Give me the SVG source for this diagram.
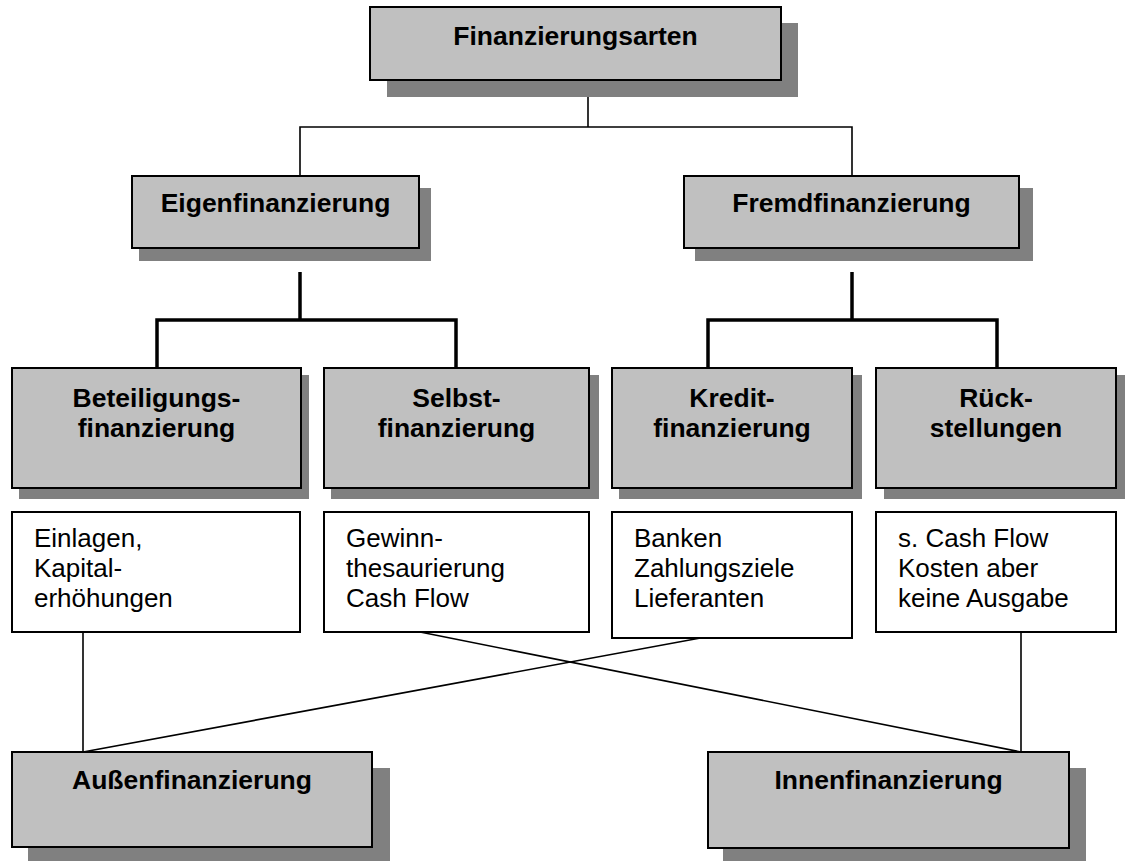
<svg xmlns="http://www.w3.org/2000/svg" width="1131" height="861" viewBox="0 0 1131 861">
  <style>
    .shadow { fill: #808080; stroke: none; }
    .box { fill: #c0c0c0; stroke: #000; stroke-width: 2; }
    .note { fill: #fff; stroke: #000; stroke-width: 2; }
    .title { font-family: "Liberation Sans", Arial, sans-serif; font-weight: bold; font-size: 26.5px; fill: #000; text-anchor: middle; }
    .body { font-family: "Liberation Sans", Arial, sans-serif; font-size: 26px; fill: #000; }
    .thin { stroke: #000; stroke-width: 1.6; fill: none; }
    .thick { stroke: #000; stroke-width: 3.5; fill: none; }
  </style>
  <rect width="1131" height="861" fill="#fff"/>

  <!-- connectors -->
  <g id="connectors">
    <polyline class="thin" points="588,80 588,127"/>
    <polyline class="thin" points="300,176 300,127 852,127 852,176"/>
    <line class="thick" x1="300" y1="272" x2="300" y2="320"/>
    <polyline class="thick" points="157,368 157,320 456,320 456,368"/>
    <line class="thick" x1="852" y1="272" x2="852" y2="320"/>
    <polyline class="thick" points="708,368 708,320 997,320 997,368"/>
    <line class="thin" x1="83" y1="632" x2="83" y2="752"/>
    <line class="thin" x1="1021" y1="632" x2="1021" y2="752"/>
    <line class="thin" x1="733" y1="632" x2="83" y2="752"/>
    <line class="thin" x1="420" y1="632" x2="1021" y2="752"/>
  </g>

  <!-- top level -->
  <g id="finanzierungsarten">
    <rect class="shadow" x="387" y="23" width="411" height="74"/>
    <rect class="box" x="370" y="7" width="411" height="73"/>
    <text class="title" x="575.5" y="45" font-size="27">Finanzierungsarten</text>
  </g>

  <!-- second level -->
  <g id="eigenfinanzierung">
    <rect class="shadow" x="139" y="188" width="292" height="73"/>
    <rect class="box" x="132" y="176" width="287" height="72"/>
    <text class="title" x="275.5" y="212">Eigenfinanzierung</text>
  </g>
  <g id="fremdfinanzierung">
    <rect class="shadow" x="695" y="188" width="338" height="73"/>
    <rect class="box" x="684" y="176" width="335" height="72"/>
    <text class="title" x="851.5" y="212">Fremdfinanzierung</text>
  </g>

  <!-- third level -->
  <g id="beteiligungsfinanzierung">
    <rect class="shadow" x="19" y="375" width="290" height="124"/>
    <rect class="box" x="12" y="368" width="289" height="120"/>
    <text class="title" x="156.5" y="407">Beteiligungs-</text>
    <text class="title" x="156.5" y="437">finanzierung</text>
  </g>
  <g id="selbstfinanzierung">
    <rect class="shadow" x="331" y="375" width="268" height="124"/>
    <rect class="box" x="324" y="368" width="265" height="120"/>
    <text class="title" x="456.5" y="407">Selbst-</text>
    <text class="title" x="456.5" y="437">finanzierung</text>
  </g>
  <g id="kreditfinanzierung">
    <rect class="shadow" x="619" y="375" width="243" height="124"/>
    <rect class="box" x="612" y="368" width="240" height="120"/>
    <text class="title" x="732" y="407">Kredit-</text>
    <text class="title" x="732" y="437">finanzierung</text>
  </g>
  <g id="rueckstellungen">
    <rect class="shadow" x="884" y="375" width="241" height="124"/>
    <rect class="box" x="876" y="368" width="240" height="120"/>
    <text class="title" x="996" y="407">Rück-</text>
    <text class="title" x="996" y="437">stellungen</text>
  </g>

  <!-- detail notes -->
  <g id="note-einlagen">
    <rect class="note" x="12" y="512" width="288" height="120"/>
    <text class="body" x="34" y="547">Einlagen,</text>
    <text class="body" x="34" y="577">Kapital-</text>
    <text class="body" x="34" y="607">erhöhungen</text>
  </g>
  <g id="note-gewinn">
    <rect class="note" x="324" y="512" width="265" height="120"/>
    <text class="body" x="346" y="547">Gewinn-</text>
    <text class="body" x="346" y="577">thesaurierung</text>
    <text class="body" x="346" y="607">Cash Flow</text>
  </g>
  <g id="note-banken">
    <rect class="note" x="612" y="512" width="240" height="126"/>
    <text class="body" x="634" y="547">Banken</text>
    <text class="body" x="634" y="577">Zahlungsziele</text>
    <text class="body" x="634" y="607">Lieferanten</text>
  </g>
  <g id="note-cashflow">
    <rect class="note" x="876" y="512" width="240" height="120"/>
    <text class="body" x="898" y="547">s. Cash Flow</text>
    <text class="body" x="898" y="577">Kosten aber</text>
    <text class="body" x="898" y="607">keine Ausgabe</text>
  </g>

  <!-- bottom level -->
  <g id="aussenfinanzierung">
    <rect class="shadow" x="28" y="768" width="362" height="93"/>
    <rect class="box" x="12" y="752" width="360" height="95"/>
    <text class="title" x="192" y="789">Außenfinanzierung</text>
  </g>
  <g id="innenfinanzierung">
    <rect class="shadow" x="723" y="768" width="363" height="93"/>
    <rect class="box" x="708" y="752" width="361" height="96"/>
    <text class="title" x="888.5" y="789">Innenfinanzierung</text>
  </g>
</svg>
